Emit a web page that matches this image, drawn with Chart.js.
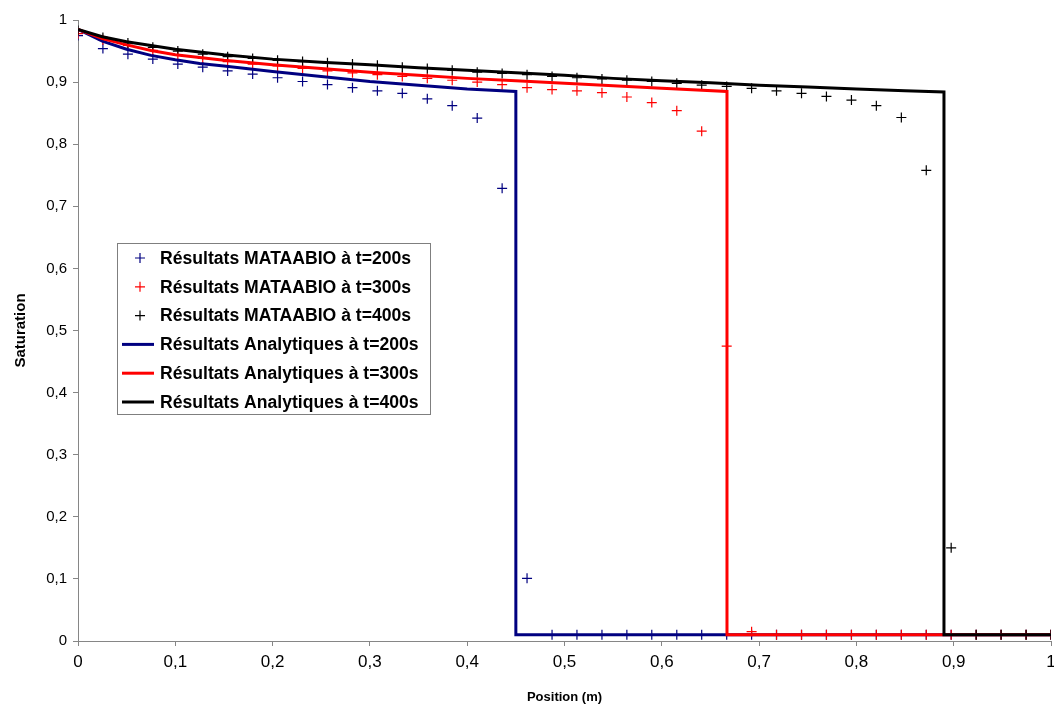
<!DOCTYPE html>
<html>
<head>
<meta charset="utf-8">
<script src="https://cdn.jsdelivr.net/npm/chart.js@4/dist/chart.umd.min.js"></script>
<style>
  html, body { margin: 0; padding: 0; background: #fff; }
  #chart { display: block; }
</style>
</head>
<body>
<canvas id="chart" width="1054" height="707"></canvas>
<script>
// marker positions (m)
const MARKER_X = [0, 0.0256, 0.0513, 0.0769, 0.1026, 0.1282, 0.1538, 0.1795, 0.2051, 0.2308,
  0.2564, 0.2821, 0.3077, 0.3333, 0.3590, 0.3846, 0.4103, 0.4359, 0.4615, 0.4872,
  0.5128, 0.5385, 0.5641, 0.5897, 0.6154, 0.6410, 0.6667, 0.6923, 0.7179, 0.7436,
  0.7692, 0.7949, 0.8205, 0.8462, 0.8718, 0.8974, 0.9231, 0.9487, 0.9744, 1];

const MATAABIO_200 = [0.975, 0.954, 0.945, 0.937, 0.929, 0.924, 0.918, 0.913, 0.907, 0.901,
  0.896, 0.891, 0.886, 0.882, 0.873, 0.862, 0.842, 0.729, 0.101, 0.01,
  0.01, 0.01, 0.01, 0.01, 0.01, 0.01, 0.01, 0.01, 0.01, 0.01,
  0.01, 0.01, 0.01, 0.01, 0.01, 0.01, 0.01, 0.01, 0.01, 0.01];

const MATAABIO_300 = [0.978, 0.968, 0.959, 0.951, 0.944, 0.938, 0.933, 0.929, 0.926, 0.922,
  0.918, 0.915, 0.912, 0.909, 0.906, 0.903, 0.900, 0.896, 0.891, 0.888,
  0.886, 0.883, 0.876, 0.867, 0.854, 0.821, 0.475, 0.015, 0.01, 0.01,
  0.01, 0.01, 0.01, 0.01, 0.01, 0.01, 0.01, 0.01, 0.01, 0.01];

const MATAABIO_400 = [0.983, 0.972, 0.963, 0.956, 0.950, 0.945, 0.941, 0.938, 0.935, 0.933,
  0.931, 0.929, 0.927, 0.924, 0.922, 0.919, 0.916, 0.914, 0.912, 0.909,
  0.907, 0.905, 0.903, 0.901, 0.898, 0.895, 0.893, 0.890, 0.886, 0.882,
  0.877, 0.871, 0.862, 0.843, 0.758, 0.150, 0.01, 0.01, 0.01, 0.01];

// analytical solutions
const ANA_X_200 = [0, 0.025, 0.05, 0.075, 0.1, 0.125, 0.15, 0.2, 0.25, 0.3, 0.35, 0.4, 0.45, 0.45, 1];
const ANA_Y_200 = [0.985, 0.966, 0.953, 0.943, 0.936, 0.930, 0.926, 0.917, 0.909, 0.901, 0.895, 0.889, 0.885, 0.01, 0.01];

const ANA_X_300 = [0, 0.025, 0.05, 0.075, 0.1, 0.15, 0.2, 0.25, 0.3, 0.35, 0.4, 0.45, 0.5, 0.55, 0.6, 0.667, 0.667, 1];
const ANA_Y_300 = [0.985, 0.970, 0.960, 0.951, 0.944, 0.935, 0.928, 0.922, 0.916, 0.911, 0.906, 0.902, 0.898, 0.894, 0.890, 0.885, 0.01, 0.01];

const ANA_X_400 = [0, 0.025, 0.05, 0.1, 0.15, 0.2, 0.25, 0.3, 0.35, 0.4, 0.45, 0.5, 0.55, 0.6, 0.65, 0.7, 0.75, 0.8, 0.85, 0.89, 0.89, 1];
const ANA_Y_400 = [0.985, 0.973, 0.965, 0.953, 0.944, 0.937, 0.932, 0.928, 0.923, 0.919, 0.915, 0.911, 0.906, 0.902, 0.899, 0.895, 0.892, 0.889, 0.886, 0.884, 0.01, 0.01];

const LABELS = [
  'Résultats MATAABIO à t=200s',
  'Résultats MATAABIO à t=300s',
  'Résultats MATAABIO à t=400s',
  'Résultats Analytiques à t=200s',
  'Résultats Analytiques à t=300s',
  'Résultats Analytiques à t=400s'
];

const NAVY = '#000080';
const RED = '#ff0000';
const BLACK = '#000000';
const AXIS_GREY = '#868686';
const FONT = '"Liberation Sans", Arial, sans-serif';

function toPoints(xs, ys) {
  return xs.map((x, i) => ({ x: x, y: ys[i] }));
}

function fmt(v) {
  if (Math.abs(v) < 1e-9) return '0';
  if (Math.abs(v - 1) < 1e-9) return '1';
  return v.toFixed(1).replace('.', ',');
}

function markerSet(label, data, color, order) {
  return {
    label: label,
    data: toPoints(MARKER_X, data),
    showLine: false,
    pointStyle: 'cross',
    pointRadius: 5,
    pointHoverRadius: 5,
    pointBorderWidth: 1.2,
    borderColor: color,
    backgroundColor: color,
    order: order
  };
}

function lineSet(label, xs, ys, color, order) {
  return {
    label: label,
    data: toPoints(xs, ys),
    showLine: true,
    borderColor: color,
    backgroundColor: color,
    borderWidth: 3,
    pointRadius: 0,
    tension: 0,
    order: order
  };
}

// let the plot run right up to the canvas edge like the Excel one
// (the last x label is allowed to hang over)
const noEdgePadding = {
  id: 'noEdgePadding',
  beforeLayout(chart) {
    const xs = chart.scales.x;
    if (xs) {
      xs.getPadding = () => ({ left: 0, top: 0, right: 0, bottom: 0 });
    }
  }
};

// legend box drawn inside the plot area, like the Excel one
const boxLegend = {
  id: 'boxLegend',
  afterDraw(chart) {
    const ctx = chart.ctx;
    const left = 117, top = 243, width = 313, height = 171;
    const rowH = 28.8, firstRow = 258;
    ctx.save();
    ctx.fillStyle = '#ffffff';
    ctx.fillRect(left, top, width, height);
    ctx.strokeStyle = '#7f7f7f';
    ctx.lineWidth = 1;
    ctx.strokeRect(left + 0.5, top + 0.5, width, height);
    ctx.font = 'bold 17.6px ' + FONT;
    ctx.textBaseline = 'middle';
    ctx.textAlign = 'left';
    chart.data.datasets.forEach((ds, i) => {
      const y = firstRow + i * rowH;
      ctx.strokeStyle = ds.borderColor;
      if (ds.showLine) {
        ctx.lineWidth = 3;
        ctx.beginPath();
        ctx.moveTo(122, y);
        ctx.lineTo(154, y);
        ctx.stroke();
      } else {
        ctx.lineWidth = 1.2;
        ctx.beginPath();
        ctx.moveTo(135, y);
        ctx.lineTo(145, y);
        ctx.moveTo(140, y - 5);
        ctx.lineTo(140, y + 5);
        ctx.stroke();
      }
      ctx.fillStyle = '#000';
      ctx.fillText(ds.label, 160, y + 1);
    });
    ctx.restore();
  }
};

new Chart(document.getElementById('chart'), {
  type: 'scatter',
  plugins: [noEdgePadding, boxLegend],
  data: {
    datasets: [
      markerSet(LABELS[0], MATAABIO_200, NAVY, 6),
      markerSet(LABELS[1], MATAABIO_300, RED, 5),
      markerSet(LABELS[2], MATAABIO_400, BLACK, 4),
      lineSet(LABELS[3], ANA_X_200, ANA_Y_200, NAVY, 3),
      lineSet(LABELS[4], ANA_X_300, ANA_Y_300, RED, 2),
      lineSet(LABELS[5], ANA_X_400, ANA_Y_400, BLACK, 1)
    ]
  },
  options: {
    responsive: false,
    animation: false,
    layout: { autoPadding: false, padding: { top: 20, right: 3, left: 0, bottom: 0 } },
    plugins: {
      legend: { display: false },
      tooltip: { enabled: false }
    },
    scales: {
      x: {
        type: 'linear',
        min: 0,
        max: 1,
        ticks: {
          stepSize: 0.1,
          callback: (v) => fmt(v),
          color: '#000',
          font: { family: FONT, size: 17 },
          padding: 6,
          maxRotation: 0
        },
        grid: { display: true, drawOnChartArea: false, drawTicks: true, tickLength: 5, color: AXIS_GREY },
        border: { display: true, color: AXIS_GREY, width: 1 },
        title: {
          display: true,
          text: 'Position (m)',
          color: '#000',
          font: { family: FONT, size: 13, weight: 'bold' },
          padding: { top: 0, bottom: 2 }
        },
        afterFit: (scale) => { scale.height = 66; }
      },
      y: {
        type: 'linear',
        min: 0,
        max: 1,
        ticks: {
          stepSize: 0.1,
          callback: (v) => fmt(v),
          color: '#000',
          font: { family: FONT, size: 15 },
          padding: 6
        },
        grid: { display: true, drawOnChartArea: false, drawTicks: true, tickLength: 5, color: AXIS_GREY },
        border: { display: true, color: AXIS_GREY, width: 1 },
        title: {
          display: true,
          text: 'Saturation',
          color: '#000',
          font: { family: FONT, size: 15, weight: 'bold' },
          padding: { top: 12, bottom: 0 }
        },
        afterFit: (scale) => { scale.width = 78; }
      }
    }
  }
});
</script>
</body>
</html>
